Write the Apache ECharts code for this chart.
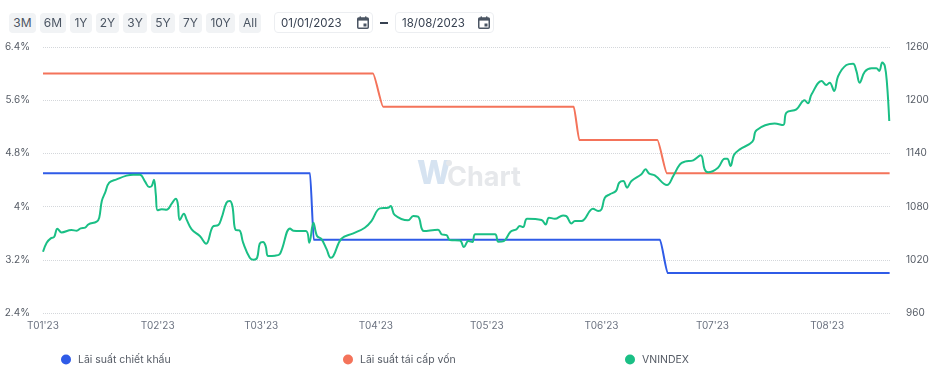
<!DOCTYPE html>
<html>
<head>
<meta charset="utf-8">
<script src="https://cdn.jsdelivr.net/npm/echarts@6/dist/echarts.min.js"></script>
<style>
html, body { margin: 0; padding: 0; background: #fff; font-family: Inter, sans-serif; }
#wrap { position: relative; width: 941px; height: 387px; overflow: hidden; }
#main { position: absolute; left: 0; top: 0; width: 941px; height: 387px; }
.btn { position: absolute; top: 13px; height: 20px; line-height: 20px; text-align: center; background: #f1f3f5; border-radius: 4px; font-size: 12px; color: #4b5563; z-index: 2; }
.date { position: absolute; top: 12px; height: 21px; width: 99px; line-height: 21px; border: 1px solid #eceef1; border-radius: 4px; font-size: 11.5px; color: #374151; box-sizing: border-box; padding-left: 6px; z-index: 2; }
.date svg { position: absolute; left: 82px; top: 3px; }
#dash { position: absolute; left: 380px; top: 22px; width: 8px; height: 2px; background: #374151; z-index: 2; }
</style>
</head>
<body>
<div id="wrap">
  <div id="main"></div>
</div>
<script>
var rangeButtons = ["3M", "6M", "1Y", "2Y", "3Y", "5Y", "7Y", "10Y", "All"];
var rangeDates = ["01/01/2023", "18/08/2023"];

// x = days since 01/01/2023
var monthDays = [0, 31, 59, 90, 120, 151, 181, 212];
var monthLabels = ["T01'23", "T02'23", "T03'23", "T04'23", "T05'23", "T06'23", "T07'23", "T08'23"];

var discountDays = [0, 72.2, 73.2, 166.8, 168.9, 228.9];
var discountRates = [4.5, 4.5, 3.5, 3.5, 3, 3];

var refinanceDays = [0, 89.2, 92, 143.5, 145, 166.1, 168.7, 228.9];
var refinanceRates = [6, 6, 5.5, 5.5, 5, 5, 4.5, 4.5];

var vnDays = [0, 1, 2.1, 3, 3.9, 5, 7.7, 9.1, 10.2, 11.4, 12.3, 14.5, 15.2, 15.9, 16.8, 17.9, 19.9, 22.6, 24.4, 26.2,
  27.6, 28.7, 29.4, 30, 30.5, 31, 32.1, 33.4, 34.8, 35.9, 36.4, 37, 38.1, 38.8, 40.2, 42.4, 44.1, 45.9, 47.4, 48.3,
  49.6, 50.5, 51.2, 52.1, 53.1, 54.1, 55.9, 57, 57.9, 58.6, 59.5, 60.2, 60.9, 62.7, 64.1, 66.8, 67.7, 71.1, 72, 73.1,
  74.1, 75.3, 76.7, 77.8, 78.5, 80.7, 83.9, 87, 88.8, 91.1, 93.3, 94, 95.1, 98.7, 100.1, 101.4, 103, 106.8, 107.8, 109.1,
  110, 112.7, 113.8, 115, 116.1, 116.9, 122.2, 123.1, 124.6, 126.4, 128, 128.9, 129.8, 130.9, 134.8, 135.9, 136.8, 138.4, 140.6, 141.5,
  142.9, 143.8, 145.6, 148.7, 150.1, 151, 151.9, 153.2, 154.9, 155.8, 156.9, 157.9, 159.1, 161.8, 162.9, 163.9, 165.4, 168.7, 170.4, 172.2,
  173.5, 175.8, 177.8, 178.9, 179.8, 182.5, 184.3, 185, 185.9, 186.8, 188.4, 191.8, 192.9, 197.8, 200.1, 201, 203.7, 205.9, 206.8, 207.8,
  210.5, 211.8, 212.7, 213.9, 215, 217.2, 219, 219.9, 220.8, 222.2, 224, 225.3, 226.1, 226.9, 227.6, 228.2, 228.8];
var vnValues = [1029.1, 1039.3, 1044.2, 1045.7, 1055.1, 1050.9, 1053.6, 1052.8, 1055.4, 1056.2, 1060, 1063, 1067.5, 1086.3, 1095.7, 1107, 1110.7, 1114.9, 1116, 1116,
  1108.1, 1102.1, 1103.2, 1110.3, 1093.8, 1075.8, 1076.9, 1076.5, 1083.3, 1088.9, 1084.4, 1064.9, 1072, 1065.6, 1054.3, 1046.8, 1038.2, 1057.3, 1059.2, 1067.5,
  1084.4, 1086.3, 1080.6, 1053.6, 1053.2, 1039.3, 1022.4, 1020.1, 1022.4, 1038.2, 1040, 1035.5, 1024.2, 1024.6, 1026.9, 1055.4, 1052.8, 1052.4, 1039.3, 1061.8,
  1046.8, 1043.4, 1031.7, 1022.3, 1024.2, 1043.8, 1049.8, 1056.2, 1063.7, 1078, 1078.7, 1080.6, 1070.5, 1064.5, 1069.3, 1068.6, 1052.4, 1053.9, 1048.7, 1047.9,
  1042.3, 1041.9, 1034.4, 1041.1, 1040, 1048.7, 1048.7, 1040.4, 1041.1, 1051.7, 1054.3, 1058.1, 1056.9, 1066.3, 1064.8, 1059.9, 1067.5, 1066.3, 1070.1, 1069.3,
  1061, 1063.7, 1063.7, 1077.6, 1075, 1076.9, 1090, 1093.8, 1097.6, 1107, 1108.9, 1101.4, 1108.9, 1116.4, 1122, 1117.2, 1115.3, 1104.4, 1114.5, 1127.7,
  1130.7, 1132.2, 1137.8, 1122, 1118.7, 1123.9, 1134.1, 1134.1, 1125.8, 1138.2, 1144.6, 1153.2, 1166, 1173.6, 1172, 1186, 1189.7, 1199.9, 1196.5, 1206.6,
  1221.7, 1217.2, 1219.8, 1210.4, 1227.3, 1239.7, 1241.2, 1233, 1219.8, 1232.2, 1236, 1236, 1233, 1242.4, 1238.6, 1217.9, 1176.6];

var btnLeft = [9, 40, 70, 96, 123, 151, 179, 206, 239];
var btnWidth = [27, 26, 22, 23, 24, 24, 23, 29, 22];
var wrap = document.getElementById("wrap");
var calIcon = '<svg width="12" height="13" viewBox="0 0 12 13"><rect x="0.75" y="2" width="10.5" height="10.25" rx="1" fill="none" stroke="#4b5563" stroke-width="1.5"/><rect x="0.75" y="2" width="10.5" height="2.6" fill="#4b5563"/><rect x="6.5" y="7.5" width="3" height="3" fill="#4b5563"/><rect x="2.6" y="0.4" width="1.4" height="2" fill="#4b5563"/><rect x="8" y="0.4" width="1.4" height="2" fill="#4b5563"/></svg>';
rangeButtons.forEach(function(text, i) {
  var el = document.createElement("div");
  el.className = "btn";
  el.style.left = btnLeft[i] + "px";
  el.style.width = btnWidth[i] + "px";
  el.textContent = text;
  wrap.appendChild(el);
});
[274, 395].forEach(function(left, i) {
  var el = document.createElement("div");
  el.className = "date";
  el.style.left = left + "px";
  el.innerHTML = rangeDates[i] + calIcon;
  wrap.appendChild(el);
});
var dash = document.createElement("div");
dash.id = "dash";
wrap.appendChild(dash);

function zip(xs, ys) {
  return xs.map(function(x, i) { return [x, ys[i]]; });
}

var colors = ["#2f5be7", "#f4735a", "#1abf85"];
var names = ["Lãi suất chiết khấu", "Lãi suất tái cấp vốn", "VNINDEX"];
var legendLeft = [56, 338, 620];

var myChart = echarts.init(document.getElementById("main"));
myChart.setOption({
  animation: false,
  color: colors,
  textStyle: { fontFamily: "Inter" },
  grid: { left: 43, right: 51, top: 47, height: 266 },
  legend: names.map(function(name, i) {
    return {
      data: [name],
      left: legendLeft[i],
      top: 349,
      icon: "circle",
      itemWidth: 10,
      itemHeight: 10,
      textStyle: { color: "#555b65", fontSize: 10.5, padding: [0, 0, 0, 2] }
    };
  }),
  xAxis: {
    type: "value",
    min: 0,
    max: 229,
    axisLine: { show: false },
    axisTick: { show: false },
    splitLine: { show: false },
    axisLabel: {
      customValues: monthDays,
      color: "#6b7280",
      fontSize: 10,
      margin: 8,
      formatter: function(value) {
        return monthLabels[monthDays.indexOf(value)];
      }
    }
  },
  yAxis: [
    {
      type: "value",
      min: 2.4,
      max: 6.4,
      interval: 0.8,
      axisLine: { show: false },
      axisTick: { show: false },
      axisLabel: { color: "#555b65", fontSize: 10, margin: 13, formatter: "{value}%" },
      splitLine: { lineStyle: { color: "#d4d7db", type: "dotted", width: 1 } }
    },
    {
      type: "value",
      min: 960,
      max: 1260,
      interval: 60,
      position: "right",
      axisLine: { show: false },
      axisTick: { show: false },
      axisLabel: {
        color: "#555b65",
        fontSize: 10,
        margin: 16,
        formatter: function(value) { return String(value); }
      },
      splitLine: { show: false }
    }
  ],
  // WiChart watermark
  graphic: [
    { type: "text", left: 417, top: 158, silent: true, style: { text: "W", fontFamily: "Inter", fontSize: 32, fontWeight: 800, fill: "#d6e3f1" } },
    { type: "circle", left: 446, top: 160, silent: true, shape: { r: 3 }, style: { fill: "#e6e8eb" } },
    { type: "text", left: 447, top: 164, silent: true, style: { text: "Chart", fontFamily: "Inter", fontSize: 27, fontWeight: 700, fill: "#e6e8eb" } }
  ],
  series: [
    {
      name: names[0],
      type: "line",
      showSymbol: false,
      smooth: 0.2,
      smoothMonotone: "x",
      lineStyle: { width: 2 },
      data: zip(discountDays, discountRates)
    },
    {
      name: names[1],
      type: "line",
      showSymbol: false,
      smooth: 0.2,
      smoothMonotone: "x",
      lineStyle: { width: 2 },
      data: zip(refinanceDays, refinanceRates)
    },
    {
      name: names[2],
      type: "line",
      yAxisIndex: 1,
      showSymbol: false,
      smooth: 0.4,
      lineStyle: { width: 2 },
      data: zip(vnDays, vnValues)
    }
  ]
});
</script>
</body>
</html>
